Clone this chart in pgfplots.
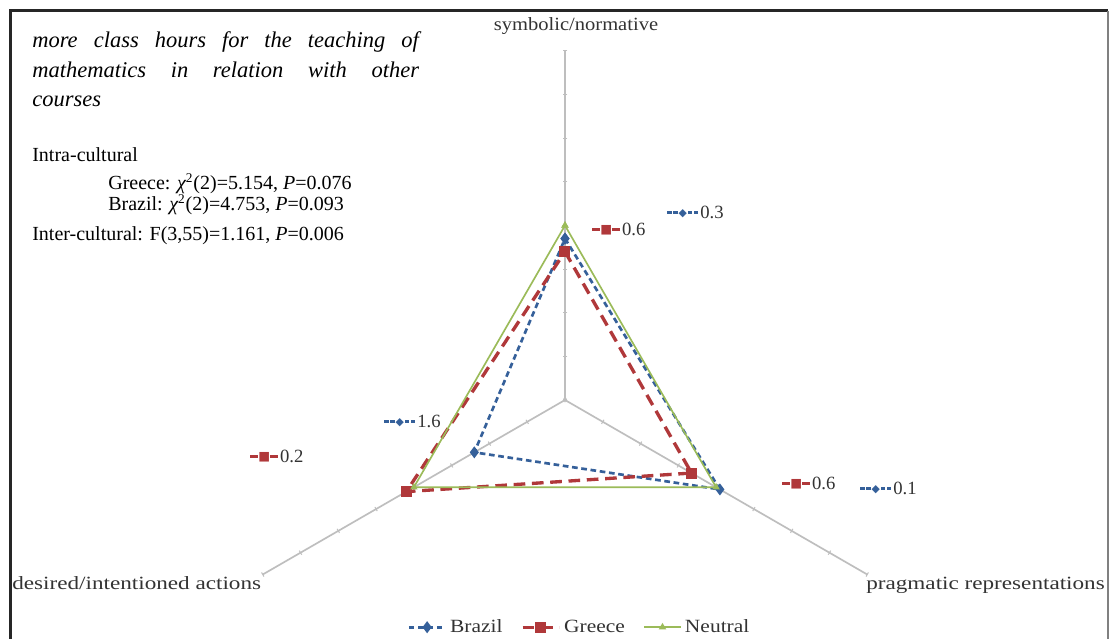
\documentclass[border=0pt]{standalone}
\usepackage{pgfplots}
\pgfplotsset{compat=1.18}
\usepgfplotslibrary{polar}
\usepackage{graphicx}
\usepackage{fontspec}
\setmainfont{Liberation Serif}
\newfontfamily\sym{DejaVu Sans}
\definecolor{cB}{HTML}{35609A}
\definecolor{cG}{HTML}{B0383A}
\definecolor{cN}{HTML}{9BBB59}
\definecolor{spk}{HTML}{BEBEBE}
\definecolor{lbl}{HTML}{333333}
\newcommand\cf{\fontsize{11.2pt}{13pt}\selectfont}
\newcommand\ct[2][1.15]{{\cf\color{lbl}\scalebox{#1}[1]{#2}}}
\newcommand\tf{\fontsize{12pt}{14pt}\selectfont}
\newcommand\itf{\fontsize{13.5pt}{16pt}\selectfont\itshape}
% data-label keys (text glyphs)
\newcommand\dsh[1]{\rule[0.26em]{#1}{1.5pt}}
\newcommand\kB{{\color{cB}\dsh{2.6pt}\hspace{1pt}\dsh{2.6pt}\hspace{0.6pt}{\sym\fontsize{6.5pt}{6.5pt}\selectfont\raisebox{0.12em}{◆}}\hspace{0.6pt}\dsh{2.6pt}\hspace{1pt}\dsh{2.6pt}}\hspace{1.2pt}}
\newcommand\kG{{\color{cG}\rule[0.24em]{4.8pt}{2pt}{\sym\fontsize{7.5pt}{7.5pt}\selectfont\raisebox{0.1em}{■}}\rule[0.24em]{4.8pt}{2pt}}\hspace{1.2pt}}
\begin{document}
\begin{tikzpicture}[x=0.6pt,y=0.6pt]
\useasboundingbox (0,0) rectangle (1111,639);
\fill[white] (0,0) rectangle (1111,639);
% frame
\draw[line width=1.8pt,black!85] (10,0) -- (10,628) -- (1108,628);
\draw[line width=0.7pt,black!50] (1108,628) -- (1108,0);
\begin{polaraxis}[
  at={(339pt,143.4pt)}, anchor=origin,
  scale only axis, width=418.8pt, height=418.8pt,
  xmin=0, xmax=360, ymin=0, ymax=8,
  hide axis, clip=false,
  legend columns=3,
  legend style={draw=none, fill=none, at={(axis cs:-86.2,5.22)}, anchor=center,
    /tikz/every even column/.append style={column sep=9pt}},
  legend image code/.code={\draw[mark repeat=2,mark phase=2,#1] plot coordinates {(0pt,0pt)(11pt,0pt)(22pt,0pt)};},
]
% spokes with tick marks
\addplot[spk, line width=1pt, mark=-, mark size=1.4pt, mark options={solid,spk,line width=0.6pt}, forget plot]
  coordinates {(90,0)(90,1)(90,2)(90,3)(90,4)(90,5)(90,6)(90,7)(90,8)};
\addplot[spk, line width=1pt, mark=-, mark size=1.4pt, mark options={solid,spk,line width=0.6pt,rotate=60}, forget plot]
  coordinates {(-30,0)(-30,1)(-30,2)(-30,3)(-30,4)(-30,5)(-30,6)(-30,7)(-30,8)};
\addplot[spk, line width=1pt, mark=-, mark size=1.4pt, mark options={solid,spk,line width=0.6pt,rotate=-60}, forget plot]
  coordinates {(210,0)(210,1)(210,2)(210,3)(210,4)(210,5)(210,6)(210,7)(210,8)};
% series
\addplot[cB, line width=1.6pt, dash pattern=on 3.4pt off 2.2pt, mark=diamond*, mark size=2.3pt, mark options={solid}]
  coordinates {(90,3.7)(-30,4.1)(210,2.4)(90,3.7)};
\addlegendentry{\ct{Brazil}}
\addplot[cG, line width=2pt, dash pattern=on 7pt off 4pt, mark=square*, mark size=2.3pt, mark options={solid}]
  coordinates {(90,3.4)(-30,3.35)(210,4.2)(90,3.4)};
\addlegendentry{\ct{Greece}}
\addplot[cN, line width=1pt, mark=triangle*, mark size=1.6pt, mark options={solid}]
  coordinates {(90,4)(-30,4)(210,4)(90,4)};
\addlegendentry{\ct{Neutral}}
\end{polaraxis}
% axis category labels
\node[anchor=base, inner sep=0] at (576,639-31) {\ct[1.1]{symbolic/normative}};
\node[anchor=base west, inner sep=0] at (12,639-590) {\ct[1.24]{desired/intentioned actions}};
\node[anchor=base west, inner sep=0] at (866,639-590) {\ct[1.24]{pragmatic representations}};
% data labels
\node[anchor=west, inner sep=0] at (667,639-212) {\kB{\cf\color{lbl}0.3}};
\node[anchor=west, inner sep=0] at (592,639-229) {\kG{\cf\color{lbl}0.6}};
\node[anchor=west, inner sep=0] at (384,639-421) {\kB{\cf\color{lbl}1.6}};
\node[anchor=west, inner sep=0] at (250,639-456) {\kG{\cf\color{lbl}0.2}};
\node[anchor=west, inner sep=0] at (782,639-483) {\kG{\cf\color{lbl}0.6}};
\node[anchor=west, inner sep=0] at (860,639-488) {\kB{\cf\color{lbl}0.1}};
% text box
\node[anchor=base west, inner sep=0] at (32,639-48) {\itf\makebox[232pt][s]{more class hours for the teaching of}};
\node[anchor=base west, inner sep=0] at (32,639-78) {\itf\makebox[232pt][s]{mathematics in relation with other}};
\node[anchor=base west, inner sep=0] at (32,639-107) {\itf courses};
\node[anchor=base west, inner sep=0] at (32,639-162) {\tf Intra-cultural};
\node[anchor=base west, inner sep=0] at (108,639-190) {\tf Greece: {\itshape χ}\textsuperscript{2}(2)=5.154, \textit{P}=0.076};
\node[anchor=base west, inner sep=0] at (108,639-211) {\tf Brazil: {\itshape χ}\textsuperscript{2}(2)=4.753, \textit{P}=0.093};
\node[anchor=base west, inner sep=0] at (32,639-241) {\tf Inter-cultural: F(3,55)=1.161, \textit{P}=0.006};
\end{tikzpicture}
\end{document}
